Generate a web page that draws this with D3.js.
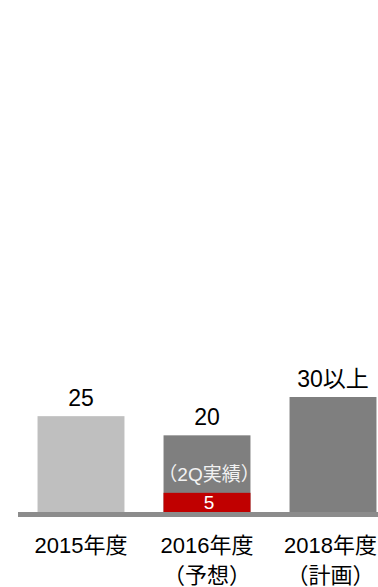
<!DOCTYPE html>
<html>
<head>
<meta charset="utf-8">
<script src="https://cdn.jsdelivr.net/npm/d3@7"></script>
<style>
  html, body { margin: 0; padding: 0; background: #fff; }
  svg { display: block; }
  text { font-family: "Liberation Sans", "Noto Sans CJK JP", sans-serif; }
</style>
</head>
<body>
<div id="chart"></div>
<script>
// Fiscal-year figures
const categories = ["2015年度", "2016年度", "2018年度"];
const categoryNotes = ["", "（予想）", "（計画）"];
const totals = [25, 20, 30];
const totalLabels = ["25", "20", "30以上"];
const halfYearActual = [null, 5, null];
const halfYearNote = "（2Q実績）";

const W = 378, H = 587;
const baseY = 512;

const svg = d3.select("#chart").append("svg")
  .attr("width", W).attr("height", H);

const x = d3.scaleBand()
  .domain(categories)
  .range([18, 396])
  .paddingInner(0.31)
  .paddingOuter(0.155);

const y = d3.scaleLinear()
  .domain([0, 30])
  .range([baseY, 397]);

const barColor = ["#bfbfbf", "#7f7f7f", "#7f7f7f"];
const cx = d => x(d) + x.bandwidth() / 2;

// Total bars
svg.selectAll("rect.total")
  .data(categories)
  .join("rect")
  .attr("class", "total")
  .attr("x", d => x(d))
  .attr("width", x.bandwidth())
  .attr("y", (d, i) => y(totals[i]))
  .attr("height", (d, i) => baseY - y(totals[i]))
  .attr("fill", (d, i) => barColor[i]);

// First-half actual segment
const actualIdx = categories.map((c, i) => i).filter(i => halfYearActual[i] != null);
svg.selectAll("rect.actual")
  .data(actualIdx)
  .join("rect")
  .attr("class", "actual")
  .attr("x", i => x(categories[i]))
  .attr("width", x.bandwidth())
  .attr("y", i => y(halfYearActual[i]))
  .attr("height", i => baseY - y(halfYearActual[i]))
  .attr("fill", "#c00000");

svg.selectAll("text.actual")
  .data(actualIdx)
  .join("text")
  .attr("class", "actual")
  .attr("x", i => cx(categories[i]) + 2)
  .attr("y", i => y(halfYearActual[i]) + 16)
  .attr("text-anchor", "middle")
  .attr("font-size", 19)
  .attr("fill", "#ffffff")
  .text(i => halfYearActual[i]);

svg.selectAll("text.note")
  .data(actualIdx)
  .join("text")
  .attr("class", "note")
  .attr("x", i => cx(categories[i]) + 2)
  .attr("y", i => y(halfYearActual[i]) - 12)
  .attr("text-anchor", "middle")
  .attr("font-size", 19)
  .attr("fill", "#f2f2f2")
  .text(halfYearNote);

// Value labels above bars
svg.selectAll("text.total")
  .data(categories)
  .join("text")
  .attr("class", "total")
  .attr("x", d => cx(d))
  .attr("y", (d, i) => y(totals[i]) - 10)
  .attr("text-anchor", "middle")
  .attr("font-size", 23)
  .attr("fill", "#000")
  .text((d, i) => totalLabels[i]);

// Baseline
svg.append("rect")
  .attr("x", x.range()[0])
  .attr("y", baseY)
  .attr("width", x.range()[1] - x.range()[0])
  .attr("height", 5)
  .attr("fill", "#8c8c8c");

// Category labels (kept inside the right edge)
const cat = svg.selectAll("text.cat")
  .data(categories)
  .join("text")
  .attr("class", "cat")
  .attr("text-anchor", "middle")
  .attr("font-size", 22)
  .attr("fill", "#000");

cat.append("tspan")
  .attr("y", 553)
  .text(d => d);

cat.filter((d, i) => categoryNotes[i])
  .append("tspan")
  .attr("y", 583)
  .text(d => categoryNotes[categories.indexOf(d)]);

cat.each(function(d) {
  const w = this.getComputedTextLength ? d3.select(this).select("tspan").node().getComputedTextLength() : 0;
  const c = Math.min(cx(d), W - 1 - w / 2);
  d3.select(this).selectAll("tspan").attr("x", c);
});
</script>
</body>
</html>
